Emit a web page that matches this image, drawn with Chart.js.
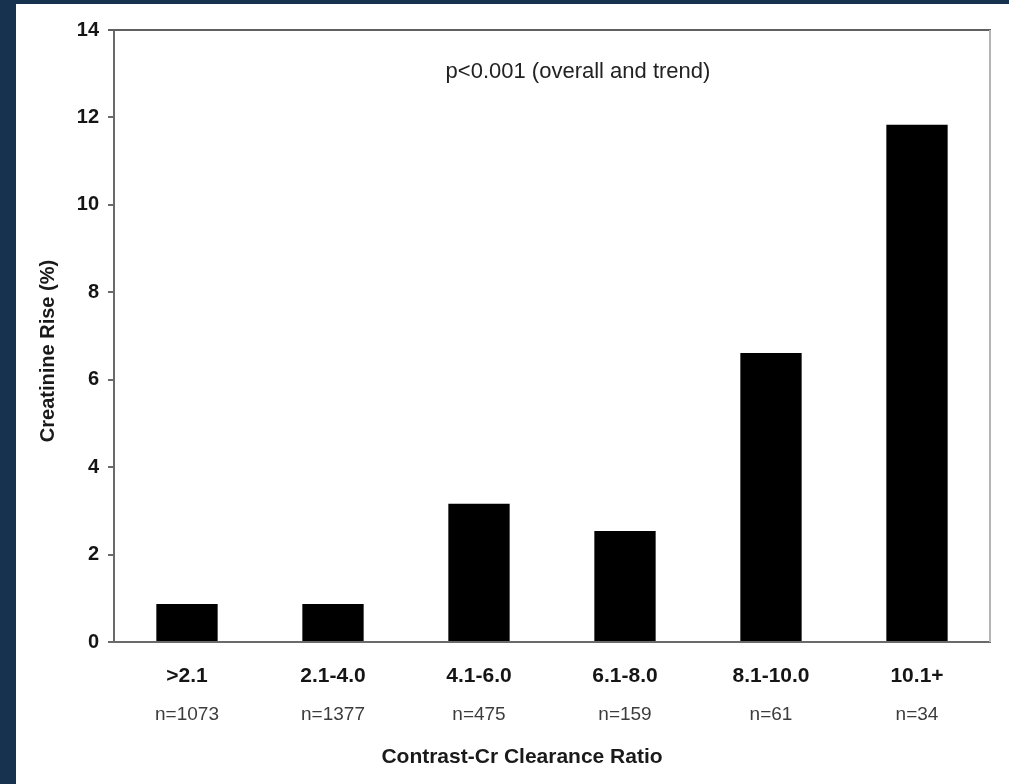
<!DOCTYPE html>
<html>
<head>
<meta charset="utf-8">
<script src="https://cdn.jsdelivr.net/npm/chart.js@4.4.1/dist/chart.umd.min.js"></script>
<style>
  html, body { margin: 0; padding: 0; background: #16324f; width: 1009px; height: 784px; overflow: hidden; }
  #wrap { position: absolute; left: 16px; top: 4px; width: 993px; height: 780px; background: #ffffff; }
  canvas { display: block; }
</style>
</head>
<body>
<div id="wrap"><canvas id="c" width="993" height="780"></canvas></div>
<script>
// Contrast-to-creatinine-clearance ratio groups and the share with a creatinine rise
const categories = ['>2.1', '2.1-4.0', '4.1-6.0', '6.1-8.0', '8.1-10.0', '10.1+'];
const sampleSizes = ['n=1073', 'n=1377', 'n=475', 'n=159', 'n=61', 'n=34'];
const creatinineRise = [0.87, 0.87, 3.16, 2.54, 6.61, 11.83];
const yTicks = [0, 2, 4, 6, 8, 10, 12, 14];
const xTitle = 'Contrast-Cr Clearance Ratio';
const yTitle = 'Creatinine Rise (%)';
const note = 'p<0.001 (overall and trend)';

const FONT = '"Liberation Sans", Arial, Helvetica, sans-serif';

// Frame lines, p-value note and axis titles
const frameAndText = {
  id: 'frameAndText',
  afterDatasetsDraw(chart) {
    const { ctx, chartArea: a } = chart;
    ctx.save();
    ctx.lineWidth = 2;
    ctx.strokeStyle = '#606060';
    ctx.beginPath();
    ctx.moveTo(a.left - 6, a.top);
    ctx.lineTo(a.right + 1, a.top);
    ctx.stroke();
    ctx.strokeStyle = '#b4b4b4';
    ctx.beginPath();
    ctx.moveTo(a.right, a.top);
    ctx.lineTo(a.right, a.bottom);
    ctx.stroke();

    ctx.fillStyle = '#222';
    ctx.font = '22px ' + FONT;
    ctx.textAlign = 'center';
    ctx.textBaseline = 'middle';
    ctx.fillText(note, (a.left + a.right) / 2 + 26, a.top + 42);
    ctx.restore();
  },
  afterDraw(chart) {
    const { ctx, chartArea: a } = chart;
    ctx.save();
    ctx.fillStyle = '#1a1a1a';
    ctx.textAlign = 'center';
    ctx.textBaseline = 'middle';
    ctx.font = 'bold 21px ' + FONT;
    ctx.fillText(xTitle, (a.left + a.right) / 2 - 30, chart.height - 27);
    ctx.translate(32, (a.top + a.bottom) / 2 + 15);
    ctx.rotate(-Math.PI / 2);
    ctx.font = 'bold 20px ' + FONT;
    ctx.fillText(yTitle, 0, 0);
    ctx.restore();
  }
};

new Chart(document.getElementById('c'), {
  type: 'bar',
  data: {
    labels: categories,
    datasets: [{
      data: creatinineRise,
      backgroundColor: '#000000',
      borderWidth: 0,
      barPercentage: 0.42,
      categoryPercentage: 1.0
    }]
  },
  options: {
    responsive: false,
    animation: false,
    layout: { padding: { left: 0, right: 19, top: 26, bottom: 0 } },
    plugins: { legend: { display: false }, tooltip: { enabled: false } },
    scales: {
      x: {
        type: 'category',
        position: 'bottom',
        weight: 0,
        offset: true,
        grid: { display: true, drawOnChartArea: false, drawTicks: false },
        border: { display: true, color: '#6a6a6a', width: 2 },
        ticks: { color: '#151515', font: { family: FONT, size: 21, weight: 'bold' }, padding: 22, maxRotation: 0, autoSkip: false },
        afterFit: s => { s.height = 52; }
      },
      x2: {
        type: 'category',
        position: 'bottom',
        weight: 1,
        offset: true,
        labels: sampleSizes,
        grid: { display: false },
        border: { display: false },
        ticks: { color: '#3c3c3c', font: { family: FONT, size: 19 }, padding: 1, maxRotation: 0, autoSkip: false },
        afterFit: s => { s.height = 90; }
      },
      y: {
        min: 0,
        max: 14,
        grid: { display: true, drawOnChartArea: false, drawTicks: true, tickLength: 6, color: '#6a6a6a', lineWidth: 2 },
        border: { display: true, color: '#6a6a6a', width: 2 },
        ticks: { color: '#151515', font: { family: FONT, size: 20, weight: 'bold' }, padding: 9 },
        afterBuildTicks: s => { s.ticks = yTicks.map(v => ({ value: v })); },
        afterFit: s => { s.width = 98; }
      }
    }
  },
  plugins: [frameAndText]
});
</script>
</body>
</html>
